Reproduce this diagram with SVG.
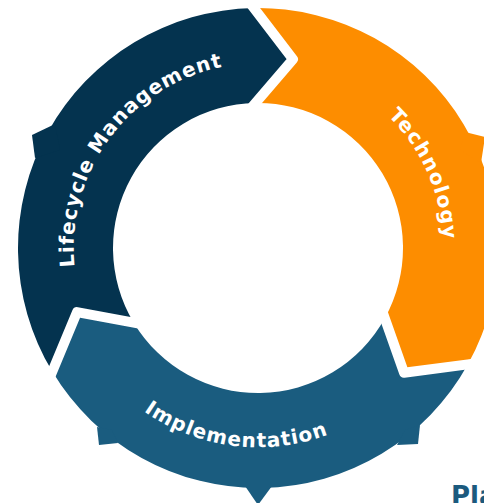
<svg xmlns="http://www.w3.org/2000/svg" width="484" height="503" viewBox="0 0 484 503">
  <style>
    .label { font-family: "DejaVu Sans", "Open Sans", sans-serif; font-weight: 700; font-size: 20px; fill: #ffffff; }
    .sep { fill: none; stroke: #ffffff; stroke-width: 10; stroke-linejoin: round; stroke-linecap: round; }
    .navy { fill: #04334f; }
    .orange { fill: #fd8d00; }
    .blue { fill: #1a5c7f; }
  </style>
  <defs>
    <path id="arcLifecycle" d="M 74.6 266.6 A 184.5 184.5 0 0 1 219.6 67.5"/>
    <path id="arcTechnology" d="M 388.0 115.8 A 185.5 185.5 0 0 1 443.2 238.3"/>
    <path id="arcImplementation" d="M 143.8 411.2 A 199.3 199.3 0 0 0 329.4 434.1"/>
  </defs>
  <rect width="484" height="503" fill="#ffffff"/>

  <g id="lifecycle-management">
    <path class="navy" d="M 52.28 371.61 A 240 240 0 0 1 253.81 8.04 L 292.99 59.22 L 255.47 103.02 A 145 145 0 0 0 133.71 322.68 L 77.01 312.09 Z"/>
    <polygon class="navy" points="55,124 32,135 35,158 60,150"/>
    <text class="label"><textPath href="#arcLifecycle" textLength="272" lengthAdjust="spacing">Lifecycle Management</textPath></text>
  </g>

  <g id="technology">
    <path class="orange" d="M 253.81 8.04 A 240 240 0 0 1 467.91 364.35 L 404.00 372.69 L 384.82 318.30 A 145 145 0 0 0 255.47 103.02 L 292.99 59.22 Z"/>
    <polygon class="orange" points="465,132 485,137 481,163 460,150"/>
    <text class="label"><textPath href="#arcTechnology" textLength="138" lengthAdjust="spacing">Technology</textPath></text>
  </g>

  <g id="implementation">
    <path class="blue" d="M 467.91 364.35 A 240 240 0 0 1 52.28 371.61 L 77.01 312.09 L 133.71 322.68 A 145 145 0 0 0 384.82 318.30 L 404.00 372.69 Z"/>
    <polygon class="blue" points="97,427 99,445 118,443 112,430"/>
    <polygon class="blue" points="420,425 418,444 397,445 405,430"/>
    <polygon class="blue" points="245,486 258,505 272,486"/>
    <text class="label"><textPath href="#arcImplementation" textLength="193" lengthAdjust="spacing">Implementation</textPath></text>
  </g>

  <g id="connectors">
    <polyline class="sep" points="246.51,-1.49 253.81,8.04 292.99,59.22 255.47,103.02 247.66,112.14"/>
    <polyline class="sep" points="479.81,362.80 467.91,364.35 404.00,372.69 384.82,318.30 380.83,306.98"/>
    <polyline class="sep" points="47.68,382.69 52.28,371.61 77.01,312.09 133.71,322.68 145.51,324.88"/>
  </g>

  <text x="451" y="505" style="font-family: 'DejaVu Sans', sans-serif; font-weight: 700; font-size: 26px; fill: #1b5a7e;">Pla</text>
</svg>
